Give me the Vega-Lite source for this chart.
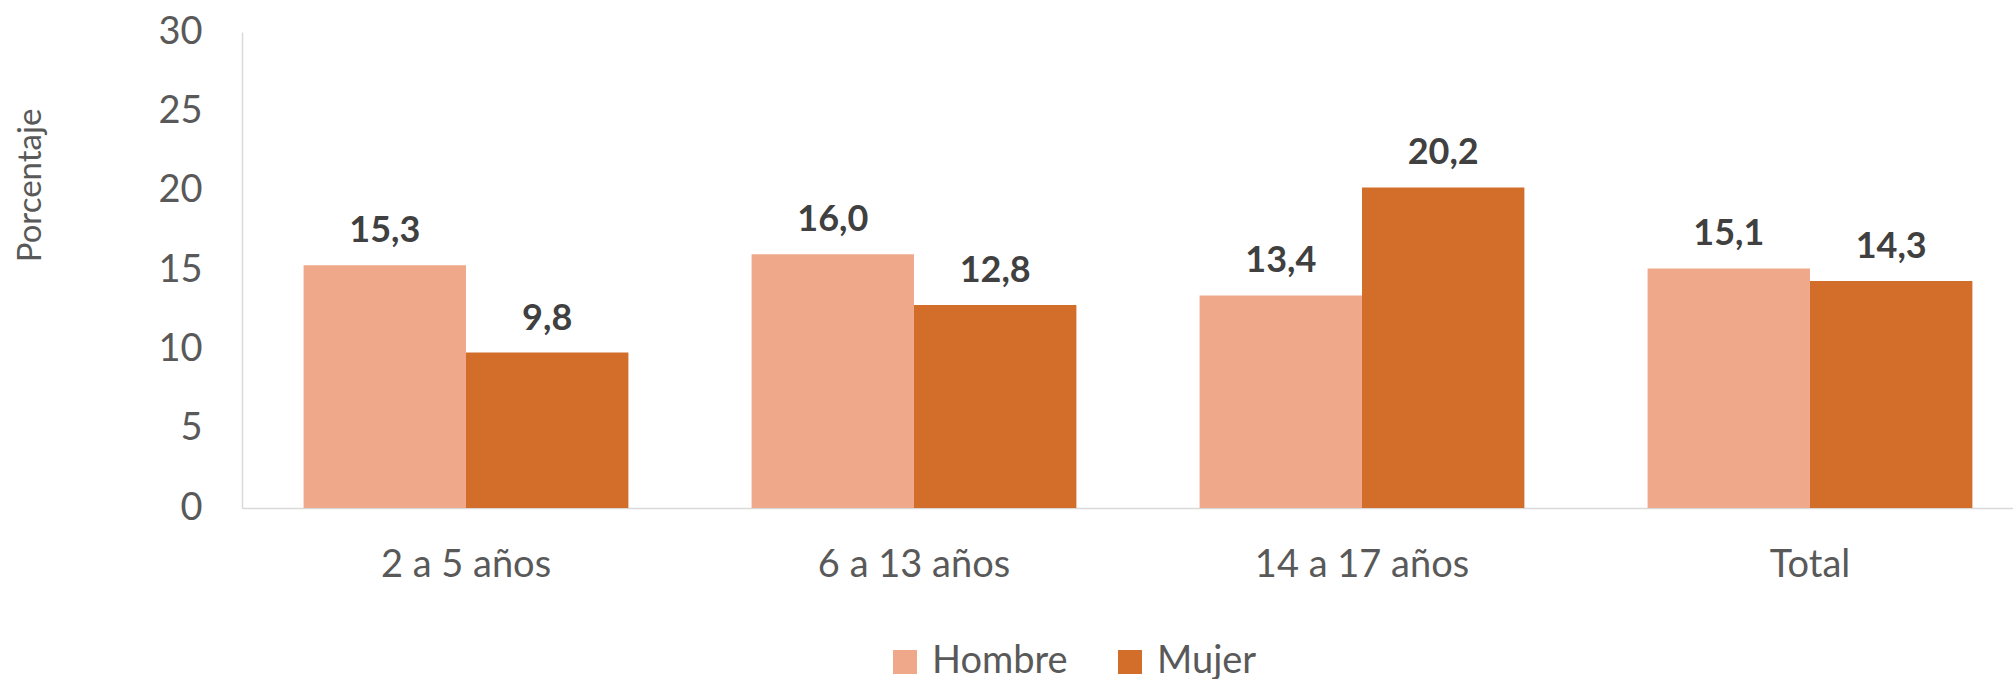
{
  "$schema": "https://vega.github.io/schema/vega-lite/v6.json",
  "autosize": {"type": "none"},
  "padding": {"left": 242, "top": 32, "right": -21, "bottom": 171},
  "width": 1792,
  "height": 476,
  "background": "white",
  "config": {
    "view": {"stroke": null},
    "font": "Lato"
  },
  "data": {
    "values": [
      {"grupo": "2 a 5 años", "sexo": "Hombre", "valor": 15.3, "etiqueta": "15,3"},
      {"grupo": "2 a 5 años", "sexo": "Mujer", "valor": 9.8, "etiqueta": "9,8"},
      {"grupo": "6 a 13 años", "sexo": "Hombre", "valor": 16.0, "etiqueta": "16,0"},
      {"grupo": "6 a 13 años", "sexo": "Mujer", "valor": 12.8, "etiqueta": "12,8"},
      {"grupo": "14 a 17 años", "sexo": "Hombre", "valor": 13.4, "etiqueta": "13,4"},
      {"grupo": "14 a 17 años", "sexo": "Mujer", "valor": 20.2, "etiqueta": "20,2"},
      {"grupo": "Total", "sexo": "Hombre", "valor": 15.1, "etiqueta": "15,1"},
      {"grupo": "Total", "sexo": "Mujer", "valor": 14.3, "etiqueta": "14,3"}
    ]
  },
  "encoding": {
    "x": {
      "field": "grupo",
      "type": "nominal",
      "sort": ["2 a 5 años", "6 a 13 años", "14 a 17 años", "Total"],
      "scale": {"paddingInner": 0.275, "paddingOuter": 0.1375},
      "axis": {
        "title": null,
        "labelAngle": 0,
        "labelFont": "Lato",
        "labelFontSize": 38,
        "labelColor": "#595959",
        "labelBaseline": "alphabetic",
        "labelPadding": 68,
        "labelLimit": 500,
        "ticks": false,
        "tickSize": 0,
        "domainColor": "#D9D9D9",
        "domainWidth": 1.5,
        "grid": false
      }
    },
    "xOffset": {"field": "sexo", "type": "nominal", "sort": ["Hombre", "Mujer"]},
    "y": {
      "field": "valor",
      "type": "quantitative",
      "scale": {"domain": [0, 30], "nice": false},
      "axis": {
        "title": "Porcentaje",
        "titleFont": "Lato",
        "titleFontSize": 33,
        "titleFontWeight": "normal",
        "titleColor": "#595959",
        "titleAngle": -90,
        "titleAlign": "center",
        "titleBaseline": "alphabetic",
        "titleX": -202,
        "titleY": 153,
        "values": [0, 5, 10, 15, 20, 25, 30],
        "labelFont": "Lato",
        "labelFontSize": 38,
        "labelColor": "#595959",
        "labelPadding": 40,
        "ticks": false,
        "tickSize": 0,
        "grid": false,
        "domainColor": "#D9D9D9",
        "domainWidth": 1.5
      }
    }
  },
  "layer": [
    {
      "mark": {"type": "bar"},
      "encoding": {
        "color": {
          "field": "sexo",
          "type": "nominal",
          "scale": {"domain": ["Hombre", "Mujer"], "range": ["#F0A88A", "#D26E2A"]},
          "legend": {
            "title": null,
            "orient": "none",
            "direction": "horizontal",
            "legendX": 644,
            "legendY": 611,
            "padding": 0,
            "symbolType": "square",
            "symbolSize": 576,
            "symbolStrokeWidth": 0,
            "symbolOpacity": 1,
            "labelFont": "Lato",
            "labelFontSize": 38,
            "labelColor": "#595959",
            "labelOffset": 8,
            "columnPadding": 43,
            "labelLimit": 400
          }
        }
      }
    },
    {
      "mark": {
        "type": "text",
        "baseline": "alphabetic",
        "dy": -23,
        "font": "Lato",
        "fontSize": 36,
        "fontWeight": "bold",
        "color": "#404040"
      },
      "encoding": {
        "text": {"field": "etiqueta", "type": "nominal"}
      }
    }
  ]
}
